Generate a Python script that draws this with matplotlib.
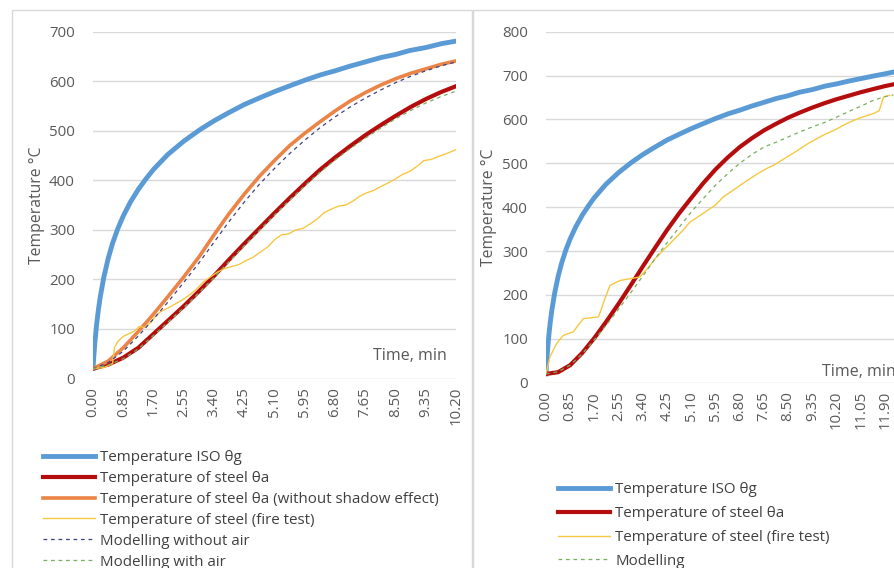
import matplotlib.pyplot as plt
from matplotlib.patches import Rectangle
import numpy as np

plt.rcParams['font.family'] = ['Open Sans', 'DejaVu Sans']

# ---- left chart data (time in min, temperature in °C) ----
t_iso_l = [0, 0.02, 0.05, 0.1, 0.15, 0.2, 0.3, 0.425, 0.55, 0.7, 0.85, 1.05, 1.275,
           1.5, 1.7, 2.1, 2.55, 3.0, 3.4, 3.8, 4.25, 4.7, 5.1, 5.5, 5.95, 6.4, 6.8,
           7.2, 7.65, 8.1, 8.5, 8.9, 9.35, 9.8, 10.2]
iso_l = [20, 42, 70, 108, 138, 163, 203, 242, 273, 303, 328, 356, 382,
         404, 422, 452, 479, 502, 520, 536, 553, 567, 579, 590, 602, 613, 621,
         630, 639, 648, 654, 662, 668, 676, 681]

t_steel = [0, 0.425, 0.85, 1.275, 1.7, 2.125, 2.55, 2.975, 3.4, 3.825, 4.25, 4.675,
           5.1, 5.525, 5.95, 6.375, 6.8, 7.225, 7.65, 8.075, 8.5, 8.925, 9.35, 9.775, 10.2]
steel_l = [20, 28, 42, 62, 90, 118, 146, 176, 207, 240, 272, 303,
           334, 364, 393, 421, 446, 469, 491, 511, 530, 548, 564, 578, 590]
noshadow_l = [20, 35, 62, 95, 130, 167, 205, 245, 290, 333, 372, 408,
              440, 470, 495, 518, 540, 560, 577, 592, 605, 616, 625, 634, 641]
no_air_l = [20, 32, 55, 86, 120, 156, 194, 233, 275, 317, 356, 392,
            424, 454, 481, 506, 528, 548, 566, 582, 597, 610, 621, 631, 639]
with_air_l = [20, 27, 40, 60, 87, 115, 143, 173, 204, 236, 268, 299,
              330, 360, 389, 416, 441, 464, 485, 505, 524, 541, 556, 569, 580]

t_test_l = [0, 0.3, 0.55, 0.6, 0.7, 0.85, 1.0, 1.15, 1.3, 1.45, 1.6, 1.75, 1.9, 2.1,
            2.3, 2.5, 2.7, 2.9, 3.1, 3.3, 3.5, 3.7, 3.9, 4.1, 4.3, 4.5, 4.7, 4.9,
            5.1, 5.3, 5.5, 5.7, 5.9, 6.1, 6.3, 6.5, 6.7, 6.9, 7.1, 7.3, 7.5, 7.7,
            7.9, 8.1, 8.3, 8.5, 8.7, 8.9, 9.1, 9.3, 9.5, 9.7, 9.9, 10.2]
test_l = [20, 22, 30, 62, 75, 85, 90, 95, 105, 103, 112, 125, 135, 142,
          150, 158, 168, 180, 195, 205, 215, 222, 226, 230, 238, 245, 255, 265,
          280, 290, 292, 300, 303, 312, 322, 335, 342, 348, 350, 358, 368, 375,
          380, 388, 395, 403, 412, 418, 428, 440, 442, 448, 453, 462]

# ---- right chart data ----
t_iso_r = t_iso_l + [10.6, 11.05, 11.5, 11.9, 12.2]
iso_r = iso_l + [687, 693, 699, 704, 708]

t_steel_r = [0, 0.425, 0.85, 1.275, 1.7, 2.125, 2.55, 2.975, 3.4, 3.825, 4.25, 4.675,
             5.1, 5.525, 5.95, 6.375, 6.8, 7.225, 7.65, 8.075, 8.5, 8.925, 9.35, 9.775,
             10.2, 10.625, 11.05, 11.475, 11.9, 12.2]
steel_r = [20, 24, 40, 68, 102, 140, 180, 222, 265, 307, 348, 386,
           421, 455, 486, 513, 537, 557, 575, 590, 604, 616, 627, 637,
           646, 654, 662, 669, 676, 680]
model_r = [20, 25, 40, 66, 98, 132, 168, 205, 243, 282, 319, 354,
           389, 420, 450, 476, 500, 520, 537, 548, 560, 572, 583, 593,
           605, 618, 630, 643, 652, 656]

t_test_r = [0, 0.14, 0.37, 0.61, 0.96, 1.13, 1.31, 1.84, 1.95, 2.07, 2.25, 2.6, 2.95,
            3.3, 3.65, 3.82, 4.23, 4.82, 5.05, 5.5, 5.95, 6.22, 6.6, 7.0, 7.4, 7.8,
            7.98, 8.4, 8.8, 9.2, 9.73, 10.2, 10.6, 11.0, 11.48, 11.7, 11.8, 11.85, 12.07]
test_r = [20, 59, 89, 108, 116, 131, 146, 150, 169, 192, 222, 233, 237,
          241, 267, 282, 309, 348, 366, 385, 405, 423, 440, 458, 475, 490,
          495, 512, 528, 545, 564, 578, 592, 603, 613, 620, 640, 651, 655]

ticks_l = np.round(np.arange(0, 10.21, 0.85), 2)
ticks_r = np.round(np.arange(0, 11.91, 0.85), 2)

BLUE = '#5b9bd5'
RED = '#b50d0d'
ORANGE = '#eb8446'
YELLOW = '#f7c742'
NAVY = '#3a4384'
GREEN = '#76b05e'
TXT = '#595959'
LEG = '#404040'
GRID = '#d9d9d9'

W, H = 894, 568
fig = plt.figure(figsize=(W / 100, H / 100), dpi=100)


def px_axes(x0, x1, ytop, ybot):
    return fig.add_axes([x0 / W, 1 - ybot / H, (x1 - x0) / W, (ybot - ytop) / H])


def style(ax, ticks, ymax, ystep):
    ax.set_yticks(np.arange(0, ymax + 1, ystep))
    ax.set_xticks(ticks)
    ax.set_xticklabels([f'{v:.2f}' for v in ticks], rotation=90)
    ax.grid(axis='y', color=GRID, lw=1)
    ax.set_axisbelow(True)
    for s in ax.spines.values():
        s.set_visible(False)
    ax.tick_params(axis='both', length=0, colors=TXT, labelsize=10.8)
    ax.tick_params(axis='y', pad=13)
    ax.tick_params(axis='x', pad=6)
    ax.set_ylabel('Temperature °C', color=TXT, fontsize=11.3)


def legend(ax, x, y, spacing):
    ax.legend(loc='upper left', bbox_to_anchor=(x / W, 1 - y / H), bbox_transform=fig.transFigure,
              frameon=False, fontsize=10.9, handlelength=3.45, handletextpad=0.33,
              labelspacing=spacing, borderaxespad=0, borderpad=0, labelcolor=LEG)


# frames
fig.add_artist(Rectangle((12 / W, -0.1), 460 / W, 1.1 - 10 / H, transform=fig.transFigure,
                         fill=False, edgecolor=GRID, lw=1))
fig.add_artist(Rectangle((473 / W, -0.1), 1, 1.1 - 10 / H, transform=fig.transFigure,
                         fill=False, edgecolor=GRID, lw=1))

# left chart
ax1 = px_axes(93, 456, 31.7, 378.5)
ax1.plot(t_iso_l, iso_l, color=BLUE, lw=3.5, label='Temperature ISO θg')
ax1.plot(t_steel, steel_l, color=RED, lw=3.0, label='Temperature of steel θa')
ax1.plot(t_steel, noshadow_l, color=ORANGE, lw=2.6,
         label='Temperature of steel θa (without shadow effect)')
ax1.plot(t_test_l, test_l, color=YELLOW, lw=1.0, label='Temperature of steel (fire test)')
ax1.plot(t_steel, no_air_l, color=NAVY, lw=0.9, ls=(0, (3, 3)), label='Modelling without air')
ax1.plot(t_steel, with_air_l, color=GREEN, lw=0.9, ls=(0, (3, 3)), label='Modelling with air')
ax1.set_xlim(0, 10.2)
ax1.set_ylim(0, 700)
style(ax1, ticks_l, 700, 100)
ax1.yaxis.set_label_coords(-0.16 + 10 / 363, 0.5)
ax1.text(0.975, 0.065, 'Time, min', transform=ax1.transAxes, ha='right', va='center',
         color=TXT, fontsize=11.5)
legend(ax1, 43, 450, 0.39)

# right chart
ax2 = px_axes(546, 894, 31.7, 382.7)
ax2.plot(t_iso_r, iso_r, color=BLUE, lw=3.5, label='Temperature ISO θg')
ax2.plot(t_steel_r, steel_r, color=RED, lw=3.0, label='Temperature of steel θa')
ax2.plot(t_test_r, test_r, color=YELLOW, lw=1.0, label='Temperature of steel (fire test)')
ax2.plot(t_steel_r, model_r, color=GREEN, lw=0.9, ls=(0, (3, 3)), label='Modelling')
ax2.set_xlim(0, 12.22)
ax2.set_ylim(0, 800)
style(ax2, ticks_r, 800, 100)
ax2.yaxis.set_label_coords(-0.165 + 8 / 348, 0.5)
ax2.text(0.792, 0.031, 'Time, min', transform=ax2.transAxes, ha='left', va='center',
         color=TXT, fontsize=11.5)
legend(ax2, 558, 482, 0.59)

fig.savefig('out.png', dpi=100)
